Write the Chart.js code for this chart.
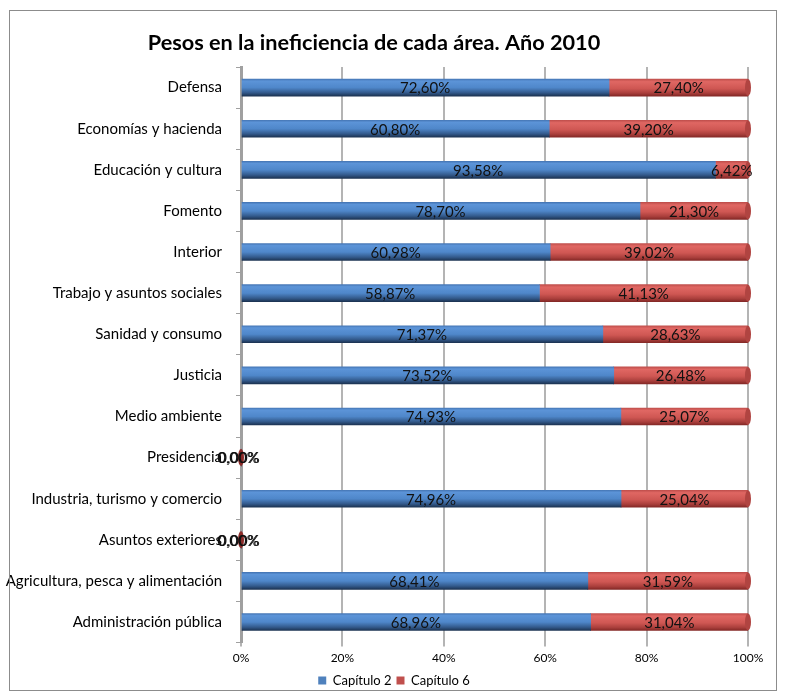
<!DOCTYPE html>
<html>
<head>
<meta charset="utf-8">
<script src="https://cdn.jsdelivr.net/npm/chart.js@4.4.1/dist/chart.umd.min.js"></script>
<style>
    body { margin: 0; background: #fff; }
    #wrap { position: relative; width: 788px; height: 697px; }
    #frame { position: absolute; left: 9px; top: 10px; width: 766px; height: 679px; border: 1px solid #8c8c8c; pointer-events: none; }
</style>
</head>
<body>
<div id="wrap">
    <canvas id="barChart" width="788" height="697"></canvas>
    <div id="frame"></div>
</div>
<script>
// áreas, de arriba abajo
const categories = [
    'Defensa',
    'Economías y hacienda',
    'Educación y cultura',
    'Fomento',
    'Interior',
    'Trabajo y asuntos sociales',
    'Sanidad y consumo',
    'Justicia',
    'Medio ambiente',
    'Presidencia',
    'Industria, turismo y comercio',
    'Asuntos exteriores',
    'Agricultura, pesca y alimentación',
    'Administración pública'
];
const capitulo2 = [72.60, 60.80, 93.58, 78.70, 60.98, 58.87, 71.37, 73.52, 74.93, 0, 74.96, 0, 68.41, 68.96];
const capitulo6 = [27.40, 39.20, 6.42, 21.30, 39.02, 41.13, 28.63, 26.48, 25.07, 0, 25.04, 0, 31.59, 31.04];
const xTicks = [0, 20, 40, 60, 80, 100];

const FONT = 'Lato, "Open Sans", sans-serif';
const BAR_H = 17;

const style = {
    blue: [[0, '#4677b6'], [0.12, '#5c94d8'], [0.5, '#4f87ca'], [0.8, '#335a8c'], [1, '#1c3352']],
    red: [[0, '#c04f4c'], [0.15, '#e06763'], [0.55, '#cf5753'], [0.82, '#aa3f3c'], [1, '#842826']],
    blueSolid: '#4f81bd',
    redSolid: '#c0504d'
}

// degradado vertical por barra para dar efecto de cilindro
const barGradient = (stops) => (ctx) => {
    const chart = ctx.chart;
    if (!chart.chartArea || !chart.scales.y || ctx.dataIndex === undefined)
        return stops[2][1];
    const yc = chart.scales.y.getPixelForValue(ctx.dataIndex);
    const g = chart.ctx.createLinearGradient(0, yc - BAR_H / 2, 0, yc + BAR_H / 2);
    stops.forEach((s) => g.addColorStop(s[0], s[1]));
    return g;
}

const fmt = (v) => v.toFixed(2).replace('.', ',') + '%';

// etiquetas de valor y tapas de los cilindros
const labelsPlugin = {
    id: 'valueLabels',
    afterLayout(chart) {
        // leyenda centrada en todo el lienzo, no sólo en el área del gráfico
        chart.legend.left += 20;
        chart.legend.right += 20;
    },
    afterDatasetsDraw(chart) {
        const c = chart.ctx;
        const x = chart.scales.x;
        const y = chart.scales.y;
        c.save();
        categories.forEach((cat, i) => {
            const yc = y.getPixelForValue(i);
            const x0 = x.getPixelForValue(0);
            const x1 = x.getPixelForValue(capitulo2[i]);
            const x2 = x.getPixelForValue(capitulo2[i] + capitulo6[i]);
            // tapa final del cilindro
            c.beginPath();
            c.ellipse(x2, yc, 3, BAR_H / 2, 0, 0, Math.PI * 2);
            c.fillStyle = x2 > x0 ? '#b04441' : '#8b2a28';
            c.fill();

            c.font = '15px ' + FONT;
            c.fillStyle = '#111';
            c.textAlign = 'center';
            c.textBaseline = 'middle';
            const zero = x2 <= x0;
            c.fillText(fmt(capitulo2[i]), (x0 + x1) / 2 + (zero ? -3 : 0), yc + 1);
            c.fillText(fmt(capitulo6[i]), (x1 + x2) / 2 + (zero ? -2 : 0), yc + 1);
        });
        c.restore();
    }
}

const config = {
    type: 'bar',
    data: {
        labels: categories,
        datasets: [{
            label: 'Capítulo 2',
            data: capitulo2,
            backgroundColor: barGradient(style.blue),
            borderWidth: 0,
            barThickness: BAR_H
        }, {
            label: 'Capítulo 6',
            data: capitulo6,
            backgroundColor: barGradient(style.red),
            borderWidth: 0,
            barThickness: BAR_H
        }]
    },
    options: {
        indexAxis: 'y',
        responsive: false,
        animation: false,
        layout: {
            padding: {left: 0, right: 40, top: 0, bottom: 0}
        },
        plugins: {
            title: {
                display: true,
                text: 'Pesos en la ineficiencia de cada área. Año 2010',
                color: '#000',
                font: {family: FONT, size: 21.7, weight: 'bold'},
                padding: {top: 30, bottom: 11}
            },
            legend: {
                position: 'bottom',
                labels: {
                    color: '#000',
                    font: {family: FONT, size: 13},
                    boxWidth: 8,
                    boxHeight: 8,
                    padding: 5,
                    generateLabels: (chart) => [
                        {text: 'Capítulo 2', fillStyle: style.blueSolid, strokeStyle: style.blueSolid, lineWidth: 0, datasetIndex: 0},
                        {text: 'Capítulo 6', fillStyle: style.redSolid, strokeStyle: style.redSolid, lineWidth: 0, datasetIndex: 1}
                    ]
                }
            },
            tooltip: {enabled: false}
        },
        scales: {
            x: {
                stacked: true,
                min: 0,
                max: 100,
                afterBuildTicks: (scale) => {
                    scale.ticks = xTicks.map((v) => ({value: v}));
                },
                ticks: {
                    color: '#000',
                    font: {family: FONT, size: 12},
                    padding: 4,
                    callback: (v) => v + '%'
                },
                grid: {
                    color: '#b4b4b4',
                    lineWidth: 2,
                    tickLength: 4
                },
                border: {display: false}
            },
            y: {
                stacked: true,
                afterFit: (scale) => {
                    scale.width = 241;
                },
                ticks: {
                    color: '#000',
                    font: {family: FONT, size: 15},
                    padding: 14
                },
                grid: {
                    offset: true,
                    drawOnChartArea: false,
                    color: '#a0a0a0',
                    tickLength: 5
                },
                border: {display: true, color: '#a0a0a0', width: 3}
            }
        }
    },
    plugins: [labelsPlugin]
};

var myChart = new Chart(document.getElementById('barChart'), config);
</script>
</body>
</html>
